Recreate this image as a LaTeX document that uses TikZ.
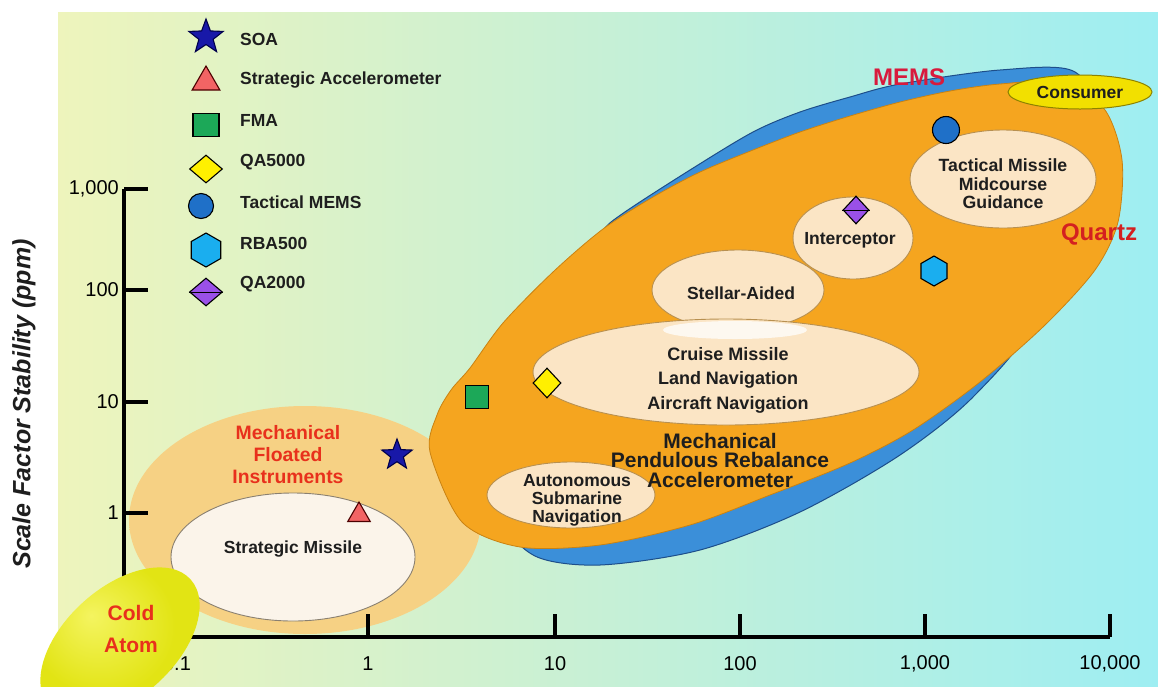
\documentclass[tikz,border=0pt]{standalone}
\usepackage{fontspec}
\setmainfont{Liberation Sans}
\usetikzlibrary{shapes.geometric}
\newcommand\myfs[2]{\fontsize{#1}{#2}\selectfont}
\definecolor{bgA}{HTML}{EEF4BC}
\definecolor{bgB}{HTML}{C6F0D6}
\definecolor{bgC}{HTML}{9EEEF2}
\definecolor{orng}{HTML}{F5A51F}
\definecolor{orngD}{HTML}{C98212}
\definecolor{mems}{HTML}{3B8FD9}
\definecolor{memsD}{HTML}{1D4E8A}
\definecolor{cream}{HTML}{FBE5C5}
\definecolor{creamD}{HTML}{B89050}
\definecolor{flA}{HTML}{F6D184}
\definecolor{flB}{HTML}{EDBE5E}
\definecolor{smiss}{HTML}{FBF4EA}
\definecolor{smissD}{HTML}{8A8070}
\definecolor{coldY}{HTML}{E2E414}
\definecolor{coldC}{HTML}{F4F460}
\definecolor{cons}{HTML}{F2E000}
\definecolor{consD}{HTML}{8C8200}
\definecolor{redT}{HTML}{E8301C}
\definecolor{memsT}{HTML}{D81A3C}
\definecolor{quartzT}{HTML}{D42020}
\definecolor{txt}{HTML}{1E1E1E}
\definecolor{starF}{HTML}{1818A8}
\definecolor{triF}{HTML}{F26464}
\definecolor{sqF}{HTML}{1CA858}
\definecolor{ydF}{HTML}{FFF000}
\definecolor{circF}{HTML}{1F70C8}
\definecolor{hexF}{HTML}{1AAEEF}
\definecolor{pdF}{HTML}{9A50E8}
\tikzset{
  lbl/.style={font=\bfseries\myfs{17.5}{19}, text=txt, align=center, inner sep=0pt},
  legtxt/.style={font=\bfseries\myfs{17.5}{19}, text=txt, anchor=west, inner sep=0pt},
  ticklbl/.style={font=\myfs{20}{22}, text=black, inner sep=0pt},
  inner/.style={fill=cream, draw=creamD, line width=0.9pt},
  axis/.style={line width=4pt, black},
  mk/.style={draw=black, line width=1.1pt, inner sep=0pt},
  mstar/.style={mk, star, star points=5, star point ratio=2.4, fill=starF, draw=black!70!blue},
  mtri/.style={mk, regular polygon, regular polygon sides=3, fill=triF, draw=black!70!red},
  msq/.style={mk, rectangle, fill=sqF},
  mdia/.style={mk, diamond, fill=ydF},
  mcirc/.style={mk, circle, fill=circF},
  mhex/.style={mk, regular polygon, regular polygon sides=6, shape border rotate=30, fill=hexF},
  mpdia/.style={mk, diamond, fill=pdF},
}
\pgfdeclareradialshading{floatshade}{\pgfpoint{0bp}{0bp}}{color(0bp)=(flA); color(28bp)=(flA); color(46bp)=(flB); color(50bp)=(flB)}
\pgfdeclareradialshading{coldshade}{\pgfpoint{-8bp}{8bp}}{color(0bp)=(coldC); color(20bp)=(coldY); color(50bp)=(coldY)}
\begin{document}
\begin{tikzpicture}[x=1pt,y=-1pt]
\useasboundingbox (0,0) rectangle (1158,686);
\fill[white] (0,0) rectangle (1158,686);
% background
\shade[left color=bgA, right color=bgC, middle color=bgB] (58,12) rectangle (1158,686);

% Mechanical floated instruments region
\shade[shading=floatshade] (305,520) ellipse [x radius=176, y radius=114];
\filldraw[fill=smiss, draw=smissD, line width=0.9pt] (293,557) ellipse [x radius=122, y radius=64];

% MEMS (blue) region behind quartz
\filldraw[fill=mems, draw=memsD, line width=1pt] plot[smooth cycle, tension=0.5] coordinates {
 (560,292) (600,234) (622,214) (690,170) (753,132) (800,112) (850,97) (900,84) (1000,70)
 (1075,72) (1095,130) (1040,310) (975,395) (900,455) (800,512) (700,550) (600,565)
 (535,556) (500,515) (480,420)};
% Quartz (orange) region
\filldraw[fill=orng, draw=orngD, line width=0.8pt] plot[smooth cycle, tension=0.5] coordinates {
 (430,452) (437,415) (451,390) (470,368) (503,323) (553,272) (603,229) (653,197)
 (700,172) (753,150) (800,132) (850,116) (900,102) (950,91) (1000,84) (1065,82)
 (1105,110) (1122,160) (1118,222) (1095,270) (1045,325) (980,382) (913,430) (850,463)
 (770,495) (690,525) (600,545) (520,547) (462,522)};

% application ellipses
\filldraw[inner] (738,290) ellipse [x radius=86, y radius=40];
\filldraw[inner] (726,372) ellipse [x radius=193, y radius=53];
\fill[white, opacity=0.75] (735,330) ellipse [x radius=72, y radius=9];
\filldraw[inner] (853,238) ellipse [x radius=60, y radius=41];
\filldraw[inner] (1003,179) ellipse [x radius=93, y radius=49];
\filldraw[inner] (571,495) ellipse [x radius=84, y radius=33];

% consumer
\filldraw[fill=cons, draw=consD, line width=1pt] (1080,92) ellipse [x radius=72, y radius=17];

% axes
\draw[axis] (124,189) -- (124,637) -- (1110,637);
\foreach \yy in {189,290,402,513} \draw[axis] (124,\yy) -- (148,\yy);
\foreach \xx in {183,368,555,740,925,1110} \draw[axis] (\xx,637) -- (\xx,614);
\node[ticklbl, anchor=east] (y1000) at (119,189) {1,000};
\node[ticklbl, anchor=east] (y100) at (119,290) {100};
\node[ticklbl, anchor=east] (y10) at (119,402) {10};
\node[ticklbl, anchor=east] (y1) at (119,513) {1};
\node[ticklbl] (x01) at (177,664) {0.1};
\node[ticklbl] (x1) at (368,664) {1};
\node[ticklbl] (x10) at (555,664) {10};
\node[ticklbl] (x100) at (740,664) {100};
\node[ticklbl] (x1000) at (925,664) {1,000};
\node[ticklbl] (x10000) at (1110,664) {10,000};
\node[rotate=90, font=\bfseries\itshape\myfs{25}{28}, text=txt, inner sep=0pt] (ytitle) at (24,404) {Scale Factor Stability (ppm)};

% cold atom
\shade[shading=coldshade, rotate around={42:(120,643)}] (120,643) ellipse [x radius=95, y radius=55];
\node[font=\bfseries\myfs{21}{32}, text=redT, align=center, inner sep=0pt] (cold) at (131,629) {Cold\\Atom};

% region labels
\node[font=\bfseries\myfs{19.4}{22}, text=redT, align=center, inner sep=0pt] (floated) at (288,455) {Mechanical\\Floated\\Instruments};
\node[lbl] (smis) at (293,549) {Strategic Missile};
\node[font=\bfseries\myfs{21}{19.5}, text=txt, align=center, inner sep=0pt] (mpra) at (720,460) {Mechanical\\Pendulous Rebalance\\Accelerometer};
\node[lbl, font=\bfseries\myfs{18}{24.5}] (cruise) at (728,380) {Cruise Missile\\Land Navigation\\Aircraft Navigation};
\node[lbl] (stellar) at (741,293) {Stellar-Aided};
\node[lbl] (intercept) at (850,240) {Interceptor};
\node[lbl, font=\bfseries\myfs{17.7}{18.5}] (tactical) at (1003,184) {Tactical Missile\\Midcourse\\Guidance};
\node[lbl, font=\bfseries\myfs{17.5}{18}] (auton) at (577,500) {Autonomous\\Submarine\\Navigation};
\node[lbl] (consumer) at (1080,92) {Consumer};
\node[font=\bfseries\myfs{24}{26}, text=memsT, inner sep=0pt] (memsl) at (909,77) {MEMS};
\node[font=\bfseries\myfs{24}{26}, text=quartzT, inner sep=0pt] (quartzl) at (1099,234) {Quartz};

% data markers
\node[mstar, minimum size=32pt] (pSOA) at (397,455) {};
\node[mtri, minimum size=26pt] (pSA) at (359,515) {};
\node[msq, minimum width=23pt, minimum height=23pt] (pFMA) at (477,397) {};
\node[mdia, minimum width=28pt, minimum height=30pt] (pQA5) at (547,383) {};
\node[mcirc, minimum size=27pt] (pTM) at (946,130) {};
\node[mhex, minimum size=30pt] (pRBA) at (934,271) {};
\node[mpdia, minimum width=26pt, minimum height=28pt] (pQA2) at (856,210) {};
\draw[line width=0.8pt] (pQA2.west) -- (pQA2.east);

% legend
\node[mstar, minimum size=36pt] (lSOA) at (206,37) {};
\node[mtri, minimum size=32pt] (lSA) at (206,82) {};
\node[msq, minimum width=26pt, minimum height=23pt] (lFMA) at (206,125) {};
\node[mdia, minimum width=33pt, minimum height=28pt] (lQA5) at (206,169) {};
\node[mcirc, minimum size=25pt] (lTM) at (201,206) {};
\node[mhex, minimum size=34pt] (lRBA) at (206,250) {};
\node[mpdia, minimum width=33pt, minimum height=28pt] (lQA2) at (206,292) {};
\draw[line width=0.8pt] (lQA2.west) -- (lQA2.east);
\node[legtxt] (tSOA) at (240,39) {SOA};
\node[legtxt] (tSA) at (240,80) {Strategic Accelerometer};
\node[legtxt] (tFMA) at (240,120) {FMA};
\node[legtxt] (tQA5) at (240,162) {QA5000};
\node[legtxt] (tTM) at (240,202) {Tactical MEMS};
\node[legtxt] (tRBA) at (240,243) {RBA500};
\node[legtxt] (tQA2) at (240,284) {QA2000};
\end{tikzpicture}
\end{document}
